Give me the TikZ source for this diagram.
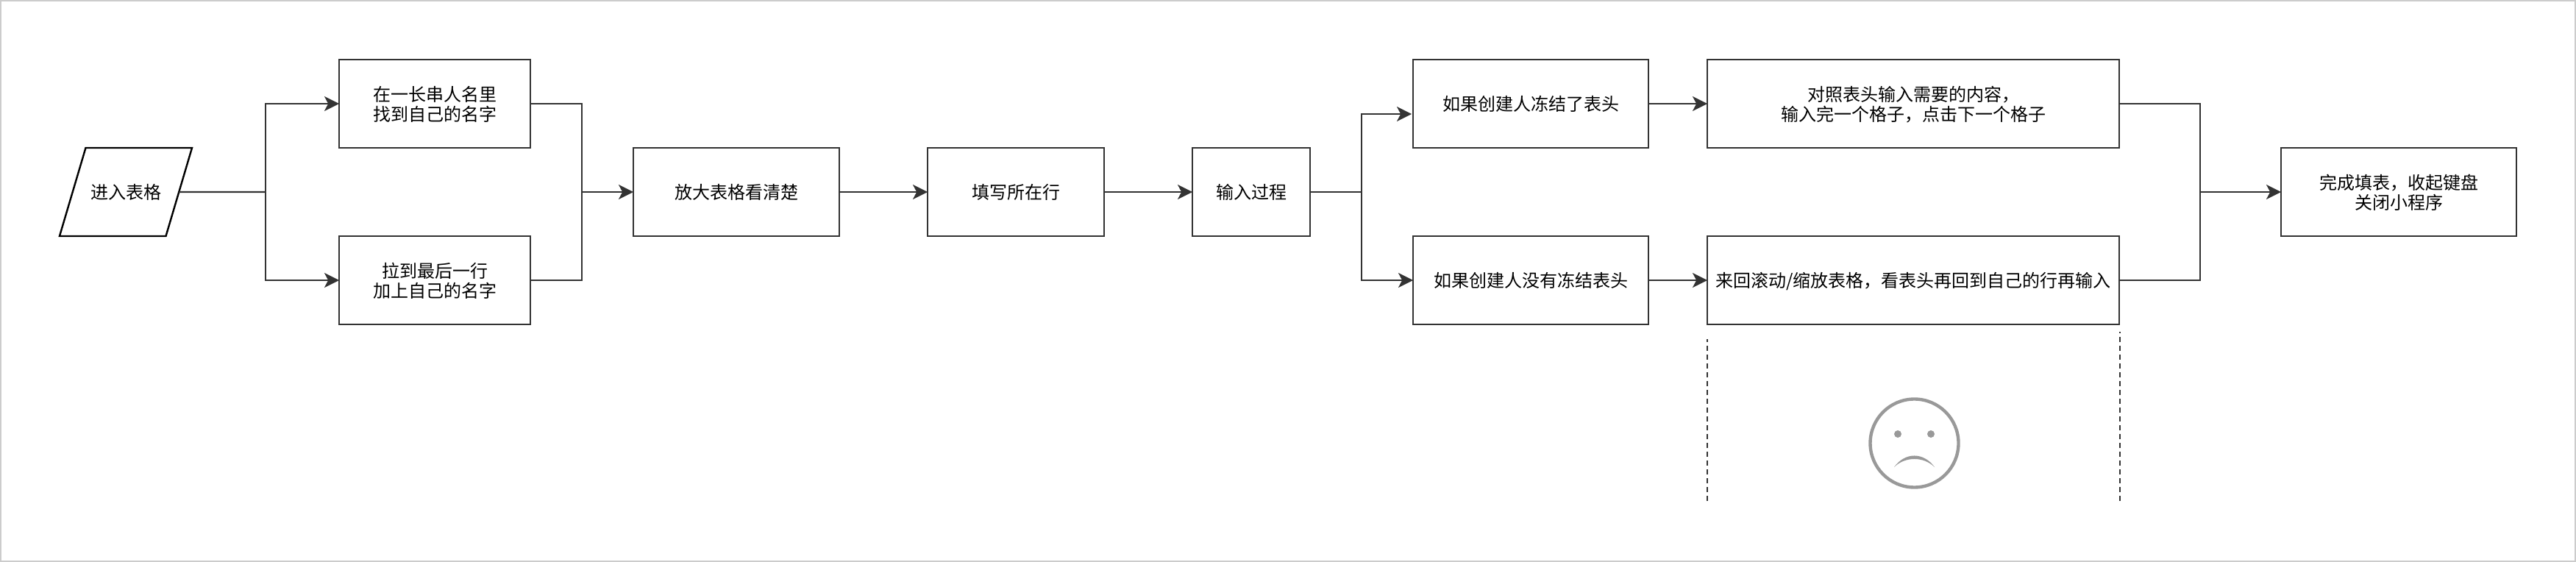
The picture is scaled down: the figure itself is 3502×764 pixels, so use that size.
\documentclass[tikz,border=0pt]{standalone}
\usepackage{fontspec}
\setmainfont{Noto Sans CJK SC}
\usepackage{xcolor}
\usetikzlibrary{arrows.meta, shapes.geometric}

\definecolor{linegray}{HTML}{333333}
\definecolor{facegray}{HTML}{999999}
\definecolor{framegray}{HTML}{CCCCCC}

\tikzset{
	stepbox/.style={draw=linegray, line width=1.2pt, fill=white, minimum height=60pt, inner sep=0pt, outer sep=0pt, align=center, text=black, text height=11.5pt, text depth=2pt, font=\fontsize{12}{13.8}\selectfont},
	twolines/.style={text height=25.8pt},
	startbox/.style={draw=black, line width=1.2pt, fill=white, outer sep=0pt, text=black, font=\fontsize{12}{13.8}\selectfont, trapezium, trapezium left angle=73.5, trapezium right angle=106.5, text height=11.5pt, text depth=2pt, inner ysep=23.25pt, inner xsep=3.25pt},
	link/.style={draw=linegray, line width=1.2pt},
	flow/.style={link, -{Stealth[length=10pt, width=10pt, inset=2.6pt]}},
	guide/.style={draw=linegray, line width=1pt, dash pattern=on 3.5pt off 2.5pt},
}

\begin{document}
\begin{tikzpicture}[x=0.5pt, y=-0.5pt]
	
	\useasboundingbox (0,0) rectangle (3502,764);
	\draw[framegray, line width=1pt] (1,1) rectangle (3501,763);
	
	% Steps
	\node[startbox] (start) at (171,261) {进入表格};
	\node[stepbox, twolines, minimum width=130pt] (find) at (591,141) {在一长串人名里\\找到自己的名字};
	\node[stepbox, twolines, minimum width=130pt] (append) at (591,381) {拉到最后一行\\加上自己的名字};
	\node[stepbox, minimum width=140pt] (zoomin) at (1001,261) {放大表格看清楚};
	\node[stepbox, minimum width=120pt] (fillrow) at (1381,261) {填写所在行};
	\node[stepbox, minimum width=80pt] (typing) at (1701,261) {输入过程};
	\node[stepbox, minimum width=160pt] (frozen) at (2081,141) {如果创建人冻结了表头};
	\node[stepbox, minimum width=160pt] (unfrozen) at (2081,381) {如果创建人没有冻结表头};
	\node[stepbox, twolines, minimum width=280pt] (lookup) at (2601,141) {对照表头输入需要的内容，\\输入完一个格子，点击下一个格子};
	\node[stepbox, minimum width=280pt] (scroll) at (2601,381) {来回滚动/缩放表格，看表头再回到自己的行再输入};
	\node[stepbox, twolines, minimum width=160pt] (finish) at (3261,261) {完成填表，收起键盘\\关闭小程序};
	
	% Junctions
	\coordinate (split1) at (361,261);
	\coordinate (join1) at (791,261);
	\coordinate (split2) at (1851,261);
	\coordinate (frozenin) at (1919,155);
	\coordinate (join2) at (2991,261);
	
	% Connectors
	\draw[link] (start.east) -- (split1);
	\draw[flow] (split1) |- (find.west);
	\draw[flow] (split1) |- (append.west);
	\draw[link] (find.east) -| (join1);
	\draw[link] (append.east) -| (join1);
	\draw[flow] (join1) -- (zoomin.west);
	\draw[flow] (zoomin.east) -- (fillrow.west);
	\draw[flow] (fillrow.east) -- (typing.west);
	\draw[link] (typing.east) -- (split2);
	\draw[flow] (split2) |- (frozenin);
	\draw[flow] (split2) |- (unfrozen.west);
	\draw[flow] (frozen.east) -- (lookup.west);
	\draw[flow] (unfrozen.east) -- (scroll.west);
	\draw[link] (lookup.east) -| (join2);
	\draw[link] (scroll.east) -| (join2);
	\draw[flow] (join2) -- (finish.west);
	
	% Guides under the scroll box
	\coordinate (guideL) at (2321,681);
	\coordinate (guideLtop) at (2321,461);
	\coordinate (guideR) at (2882,681);
	\coordinate (guideRtop) at (2882,451);
	\draw[guide] (guideL) -- (guideLtop);
	\draw[guide] (guideR) -- (guideRtop);
	
	% Sad face
	\node[draw=facegray, line width=2.2pt, circle, minimum size=60pt, inner sep=0pt] (face) at (2602.5,602.5) {};
	\foreach \x in {2580, 2625} {
		\fill[facegray] (\x,590) circle (2.5pt);
	}
	\fill[facegray] (2575,635) .. controls (2590,614.3) and (2615,614.3) .. (2630,635)
		.. controls (2615,620.3) and (2590,620.3) .. cycle;
	
\end{tikzpicture}
\end{document}
